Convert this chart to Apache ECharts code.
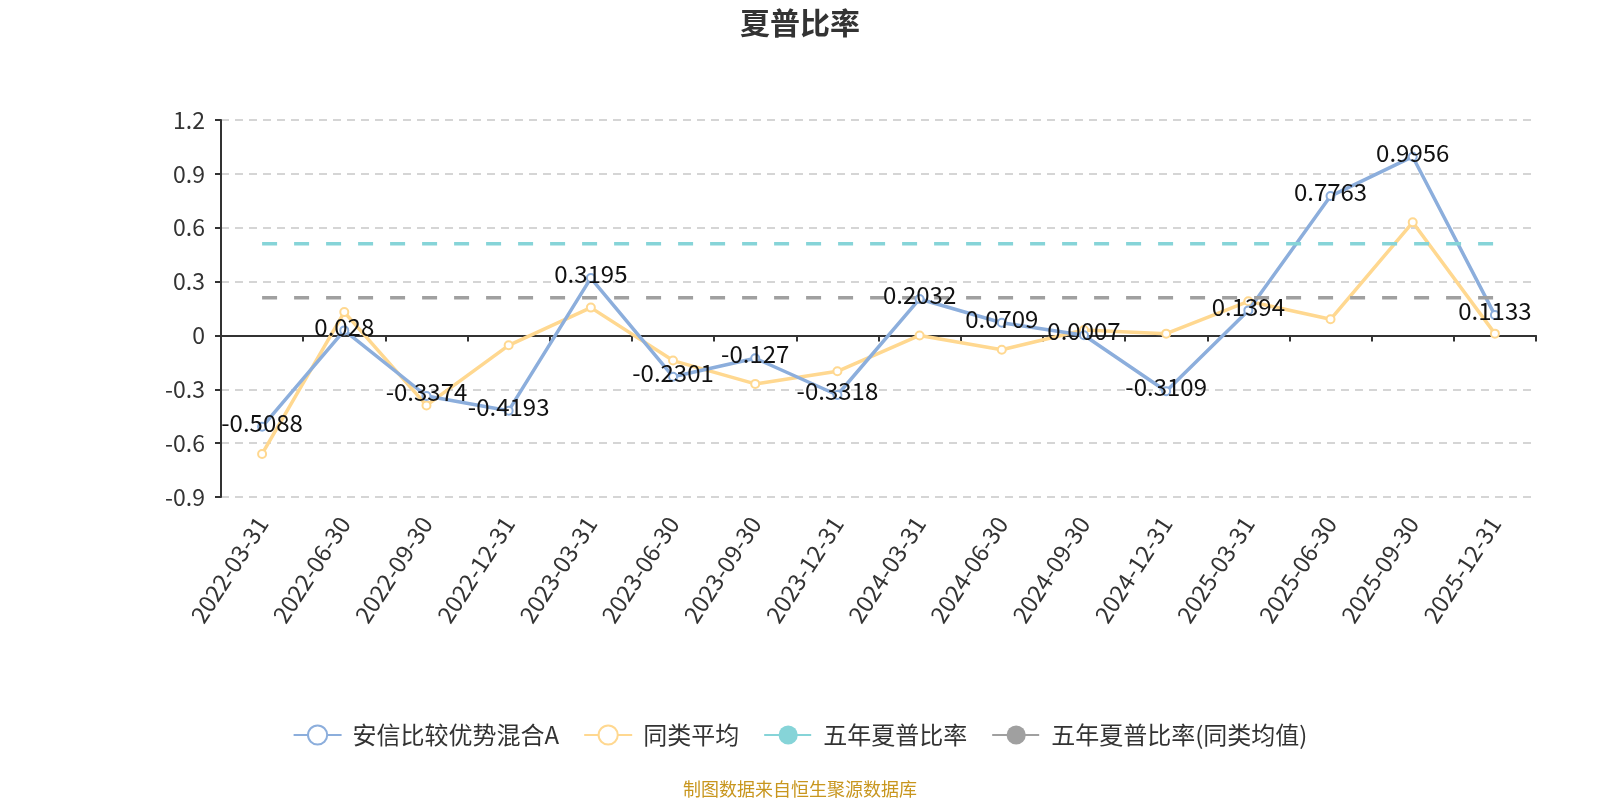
<!DOCTYPE html>
<html>
<head>
<meta charset="utf-8">
<script src="https://cdn.jsdelivr.net/npm/echarts@6/dist/echarts.min.js"></script>
<style>html,body{margin:0;padding:0;background:#fff}#c{width:1600px;height:800px}</style>
</head>
<body>
<div id="c"></div>
<script>
var categories = ['2022-03-31','2022-06-30','2022-09-30','2022-12-31','2023-03-31','2023-06-30','2023-09-30','2023-12-31','2024-03-31','2024-06-30','2024-09-30','2024-12-31','2025-03-31','2025-06-30','2025-09-30','2025-12-31'];
var fundValues = [-0.5088, 0.028, -0.3374, -0.4193, 0.3195, -0.2301, -0.127, -0.3318, 0.2032, 0.0709, 0.0007, -0.3109, 0.1394, 0.7763, 0.9956, 0.1133];
var peerValues = [-0.66, 0.13, -0.39, -0.055, 0.155, -0.14, -0.27, -0.2, 0.0, -0.08, 0.03, 0.01, 0.19, 0.09, 0.63, 0.01];
var fiveYear = 0.51;
var fiveYearPeer = 0.21;
var seriesNames = ['安信比较优势混合A', '同类平均', '五年夏普比率', '五年夏普比率(同类均值)'];
var yTicks = {min: -0.9, max: 1.2, interval: 0.3};

var font = '"Microsoft YaHei","Noto Sans CJK SC","Noto Sans",sans-serif';
var chart = echarts.init(document.getElementById('c'));
function constArr(v){ return categories.map(function(){ return v; }); }
chart.setOption({
  animation: false,
  textStyle: {fontFamily: font},
  title: {text: '夏普比率', left: 'center', top: 3, textStyle: {fontSize: 30, fontWeight: 'bold', color: '#333', fontFamily: font}},
  legend: {
    bottom: 48, left: 'center', itemWidth: 48, itemHeight: 24, itemGap: 24,
    textStyle: {fontSize: 24, color: '#333', fontFamily: font, padding: [0, 0, 0, 6]},
    data: seriesNames
  },
  graphic: [{type: 'text', left: 'center', bottom: 2, style: {text: '制图数据来自恒生聚源数据库', fill: '#c8961e', fontSize: 18, fontFamily: font}}],
  grid: {left: 221, right: 64, top: 120, bottom: 303},
  xAxis: [{
    type: 'category', data: categories, boundaryGap: true,
    axisLine: {onZero: true, lineStyle: {color: '#333', width: 2}},
    axisTick: {show: true, length: 6, lineStyle: {color: '#333', width: 2}},
    axisLabel: {show: false}
  }, {
    type: 'category', data: categories, boundaryGap: true, position: 'bottom',
    axisLine: {show: false, onZero: false}, axisTick: {show: false},
    axisLabel: {rotate: 57, fontSize: 23.5, color: '#333', margin: 22, fontFamily: font, interval: 0}
  }],
  yAxis: {
    type: 'value', min: yTicks.min, max: yTicks.max, interval: yTicks.interval,
    axisLine: {show: true, lineStyle: {color: '#333', width: 2}},
    axisTick: {show: true, length: 6, lineStyle: {color: '#333', width: 2}},
    axisLabel: {fontSize: 23, color: '#333', margin: 16, fontFamily: font,
      formatter: function(v){ return String(Math.round(v*10)/10); }},
    splitLine: {lineStyle: {type: [8, 6], color: '#c8c8c8', width: 1.5}}
  },
  series: [{
    name: seriesNames[0], type: 'line', data: fundValues, symbol: 'emptyCircle', symbolSize: 8,
    itemStyle: {color: '#8caedc'}, lineStyle: {width: 3.5, color: '#8caedc'},
    label: {show: true, position: 'top', distance: -13, fontSize: 24, color: '#111', fontFamily: font},
    z: 3
  }, {
    name: seriesNames[1], type: 'line', data: peerValues, symbol: 'emptyCircle', symbolSize: 8,
    itemStyle: {color: '#ffd890'}, lineStyle: {width: 3.5, color: '#ffd890'},
    z: 2
  }, {
    name: seriesNames[2], type: 'line', data: constArr(fiveYear), symbol: 'circle', showSymbol: false,
    itemStyle: {color: '#86d4d8'}, lineStyle: {width: 3.5, color: '#86d4d8', type: [15, 17]}
  }, {
    name: seriesNames[3], type: 'line', data: constArr(fiveYearPeer), symbol: 'circle', showSymbol: false,
    itemStyle: {color: '#a0a0a0'}, lineStyle: {width: 3.5, color: '#a0a0a0', type: [15, 17]}
  }]
});
</script>
</body>
</html>
